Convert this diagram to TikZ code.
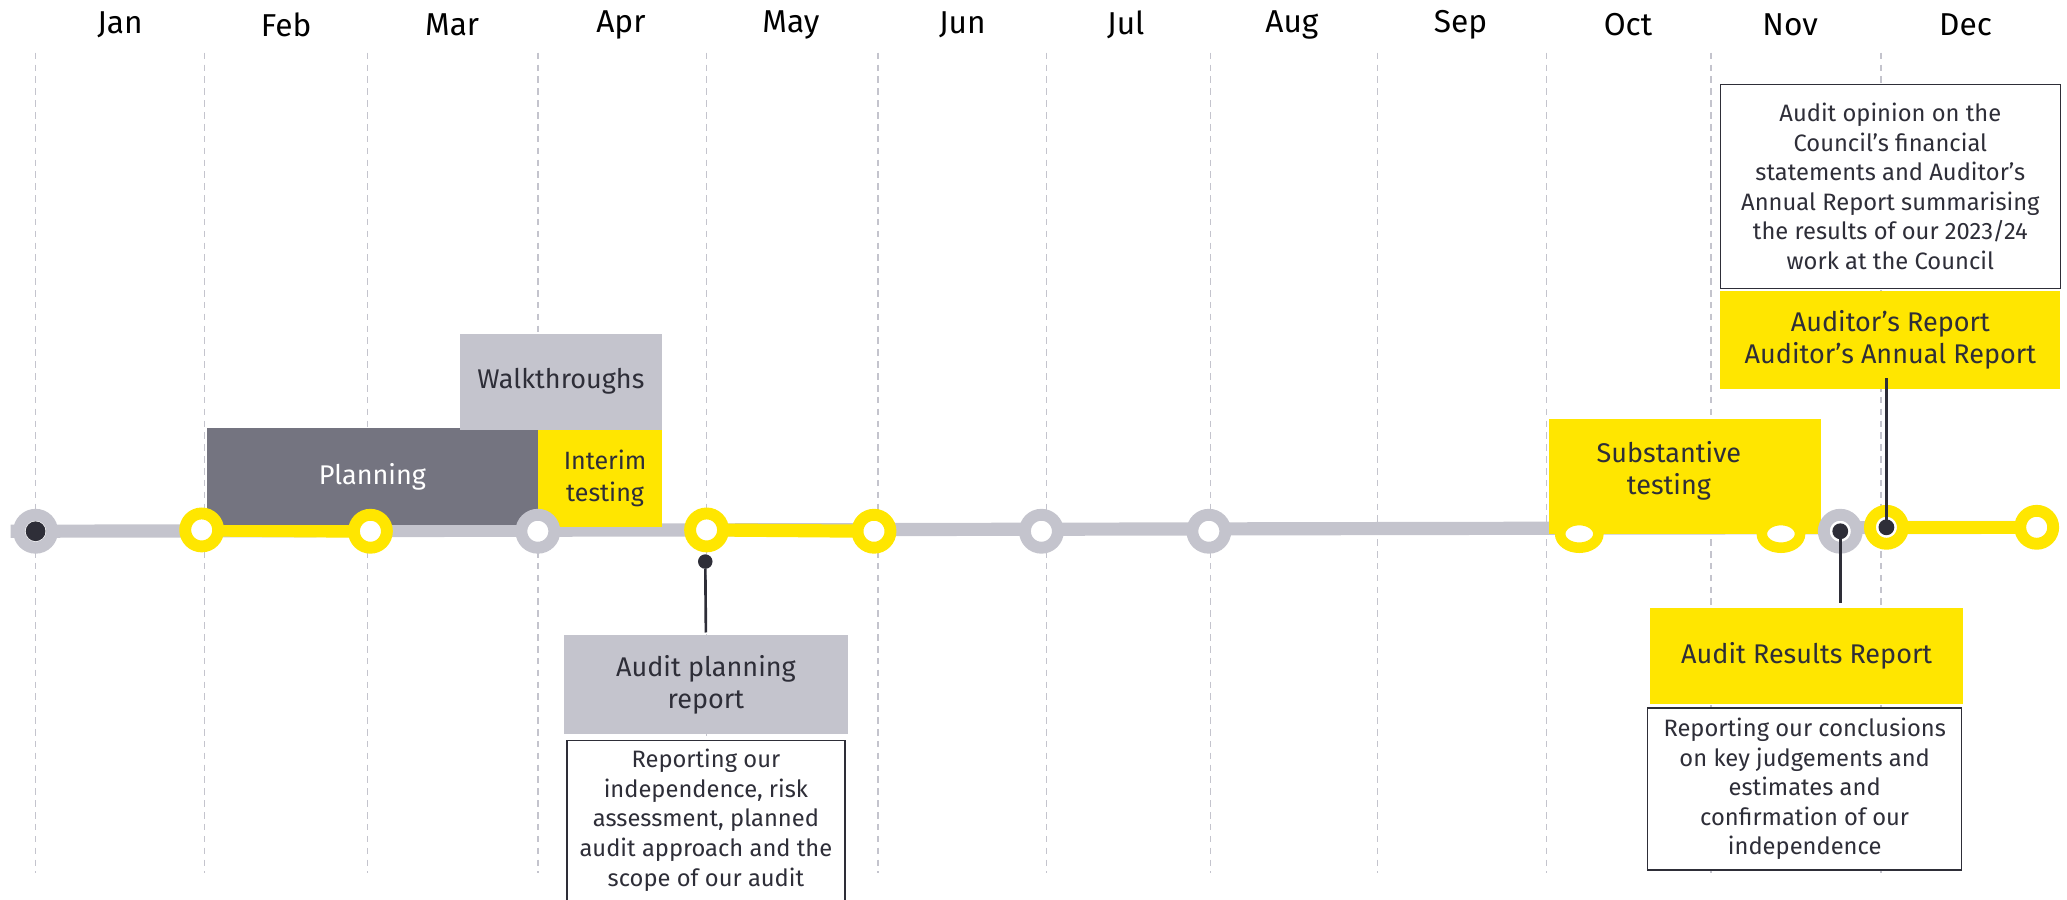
\documentclass[tikz,border=0pt]{standalone}
\usepackage{fontspec}
\setmainfont{Fira Sans}
\usetikzlibrary{shapes.geometric}
\definecolor{eyyellow}{HTML}{FFE600}
\definecolor{lgrey}{HTML}{C4C4CD}
\definecolor{mgrey}{HTML}{747480}
\definecolor{eydark}{HTML}{2E2E38}
\newcommand\labfont{\fontsize{20.5}{24}\selectfont}
\newcommand\descfont{\fontsize{18}{22.4}\selectfont}
\newcommand\monthfont{\fontsize{24}{28}\selectfont}
\tikzset{
 dashv/.style={draw=lgrey, line width=1pt, dash pattern=on 5pt off 4pt},
 tline/.style={draw=lgrey, line width=10pt},
 yline/.style={draw=eyyellow, line width=10pt},
 ringg/.style={circle, draw=lgrey, line width=9pt, fill=white, minimum size=25pt, inner sep=0pt},
 ringy/.style={circle, draw=eyyellow, line width=9pt, fill=white, minimum size=25pt, inner sep=0pt},
 ringe/.style={ellipse, draw=eyyellow, line width=8pt, fill=white, minimum width=29pt, minimum height=21pt, inner sep=0pt},
 dotbig/.style={circle, fill=eydark, inner sep=0pt, minimum size=15pt},
 dotsm/.style={circle, fill=eydark, inner sep=0pt, minimum size=12pt},
 pin/.style={circle, fill=eydark, inner sep=0pt, minimum size=11pt},
 bar/.style={rectangle, inner sep=0pt, align=center, text=eydark, font=\labfont},
 desc/.style={rectangle, draw=eydark, line width=1pt, fill=white, align=center, font=\descfont, text=eydark, inner sep=0pt},
 month/.style={font=\monthfont, text=black},
 conn/.style={draw=eydark, line width=2pt},
}
\begin{document}
\begin{tikzpicture}[x=1pt,y=-1pt]
\useasboundingbox (0,0) rectangle (1568,682);
% month labels
\foreach \m/\x in {Jan/91,Feb/217,Mar/343,Apr/471,May/600,Jun/730,Jul/854,Aug/980,Sep/1108,Oct/1235,Nov/1358,Dec/1491}
  \node[month] (m\m) at (\x,19) {\m};
% dashed month dividers
\foreach \x [count=\i] in {27,155,279,408,536,666,794,918,1045,1173,1298,1427}{
  \coordinate (dt\i) at (\x,40);
  \coordinate (db\i) at (\x,662);
  \draw[dashv] (dt\i) -- (db\i);
}
% timeline coordinates
\coordinate (tl0) at (8,403);
\coordinate (c1) at (27,403);
\coordinate (c2) at (153,402);
\coordinate (c3) at (281,403);
\coordinate (c4) at (408,403);
\coordinate (c5) at (536,402);
\coordinate (c6) at (663,403);
\coordinate (c7) at (790,403);
\coordinate (c8) at (917,403);
\coordinate (c9) at (1198,405);
\coordinate (c10) at (1351,405);
\coordinate (c11) at (1396,403);
\coordinate (c12) at (1431,400);
\coordinate (c13) at (1545,400);
\draw[tline] (tl0) -- (c13);
\draw[yline] (c2) -- (c3);
\draw[yline] (c5) -- (c6);
\draw[yline] (c12) -- (c13);
% phase boxes
\node[bar, fill=mgrey, text=white, minimum width=251pt, minimum height=73pt] (plan) at (282.5,361.5) {Planning};
\node[bar, fill=lgrey, minimum width=153pt, minimum height=73pt] (walk) at (425.5,289.5) {Walkthroughs};
\node[bar, fill=eyyellow, minimum width=94pt, minimum height=74pt, font=\fontsize{19}{24}\selectfont] (interim) at (455,363) {\hspace*{8pt}Interim\\\hspace*{8pt}testing};
\node[bar, fill=eyyellow, minimum width=206pt, minimum height=87pt] (subst) at (1278,361.5) {};
\node[bar] (substlab) at (1266,357) {Substantive\\testing};
% rings
\node[ringg] (r1) at (c1) {};
\node[ringy] (r2) at (c2) {};
\node[ringy] (r3) at (c3) {};
\node[ringg] (r4) at (c4) {};
\node[ringy] (r5) at (c5) {};
\node[ringy] (r6) at (c6) {};
\node[ringg] (r7) at (c7) {};
\node[ringg] (r8) at (c8) {};
\node[ringe] (r9) at (c9) {};
\node[ringe] (r10) at (c10) {};
\node[ringg] (r11) at (c11) {};
\node[ringy] (r12) at (c12) {};
\node[ringy] (r13) at (c13) {};
\node[dotbig] (d1) at (c1) {};
\node[dotsm] (d11) at (c11) {};
\node[dotsm] (d12) at (c12) {};
% report boxes
\node[bar, fill=lgrey, minimum width=215pt, minimum height=75pt] (apr) at (535.5,519.5) {Audit planning\\report};
\node[desc, anchor=north, minimum width=211pt, inner ysep=7pt] (aprd) at (535.5,561) {Reporting our\\independence, risk\\assessment, planned\\audit approach and the\\scope of our audit};
\node[bar, fill=eyyellow, minimum width=237pt, minimum height=73pt] (arr) at (1370.5,497.5) {Audit Results Report};
\node[desc, minimum width=238pt, minimum height=123pt] (arrd) at (1369,598.5) {Reporting our conclusions\\on key judgements and\\estimates and\\confirmation of our\\independence};
\node[bar, fill=eyyellow, minimum width=258pt, minimum height=74pt] (aud) at (1434,258) {Auditor’s Report\\Auditor’s Annual Report};
\node[desc, minimum width=258pt, minimum height=155pt] (audd) at (1434,141.5) {Audit opinion on the\\Council’s financial\\statements and Auditor’s\\Annual Report summarising\\the results of our 2023/24\\work at the Council};
% connectors
\node[pin] (p5) at (535,426) {};
\draw[conn, shorten >=2pt] (p5) -- (apr.north);
\draw[conn, shorten >=3pt] (d11.center) -- (d11.center |- arr.north);
\coordinate (audin) at (1431,287);
\draw[conn] (d12.center) -- (audin);
\end{tikzpicture}
\end{document}
